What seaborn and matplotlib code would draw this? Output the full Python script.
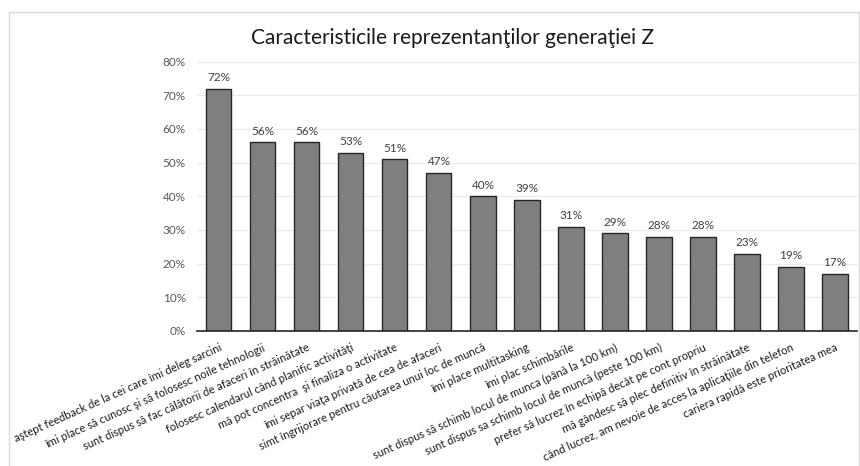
import matplotlib
matplotlib.use("Agg")
import matplotlib.pyplot as plt
import matplotlib.patches as mpatches
from matplotlib.ticker import PercentFormatter
import seaborn as sns
import pandas as pd

categories = [
    "aştept feedback de la cei care îmi deleg sarcini",
    "îmi place să cunosc şi să folosesc noile tehnologii",
    "sunt dispus să fac călătorii de afaceri în străinătate",
    "folosesc calendarul când planific activităţi",
    "mă pot concentra  şi finaliza o activitate",
    "îmi separ viaţa privată de cea de afaceri",
    "simt îngrijorare pentru căutarea unui loc de muncă",
    "îmi place multitasking",
    "îmi plac schimbările",
    "sunt dispus să schimb locul de munca (până la 100 km)",
    "sunt dispus sa schimb locul de muncă (peste 100 km)",
    "prefer să lucrez în echipă decât pe cont propriu",
    "mă gândesc să plec definitiv în străinătate",
    "când lucrez, am nevoie de acces la aplicaţiile din telefon",
    "cariera rapidă este prioritatea mea",
]
values = [72, 56, 56, 53, 51, 47, 40, 39, 31, 29, 28, 28, 23, 19, 17]
title = "Caracteristicile reprezentanţilor generaţiei Z"

sns.set_theme(style="white")
plt.rcParams["font.family"] = ["Lato", "DejaVu Sans"]

df = pd.DataFrame({"cat": categories, "val": values})

fig = plt.figure(figsize=(8.6, 4.66), dpi=100)
fig.patches.append(mpatches.Rectangle((0.0105, -0.05), 0.988, 0.974 + 0.05,
                                      transform=fig.transFigure, fill=False,
                                      edgecolor="#d9d9d9", linewidth=1.0))
ax = fig.add_axes([0.229, 0.2897, 0.7675, 0.578])

sns.barplot(data=df, x="cat", y="val", ax=ax, color="#7f7f7f",
            saturation=1, width=0.57, edgecolor="#262626", linewidth=1.0)

ax.set_ylim(0, 80)
ax.set_xlim(-0.5, 14.5)
ax.set_yticks(range(0, 81, 10))
ax.yaxis.set_major_formatter(PercentFormatter(decimals=0))
ax.grid(axis="y", color="#ececec", linewidth=1)
ax.set_axisbelow(True)
for s in ["top", "right", "left"]:
    ax.spines[s].set_visible(False)
ax.spines["bottom"].set_color("#262626")
ax.spines["bottom"].set_linewidth(1.2)
ax.set_xlabel("")
ax.set_ylabel("")
ax.tick_params(axis="y", labelsize=8.5, labelcolor="#595959", length=0, pad=8)
ax.tick_params(axis="x", length=0, pad=8)
ax.set_xticks(range(len(categories)))
ax.set_xticklabels(categories, rotation=24, ha="right", rotation_mode="anchor",
                   fontsize=8, color="#1a1a1a")

ax.bar_label(ax.containers[0], labels=[f"{v}%" for v in values], padding=4,
             fontsize=8.5, color="#404040")

fig.text(0.526, 0.918, title, ha="center", va="center", fontsize=15, color="#1a1a1a")

fig.savefig("out.png", dpi=100)
